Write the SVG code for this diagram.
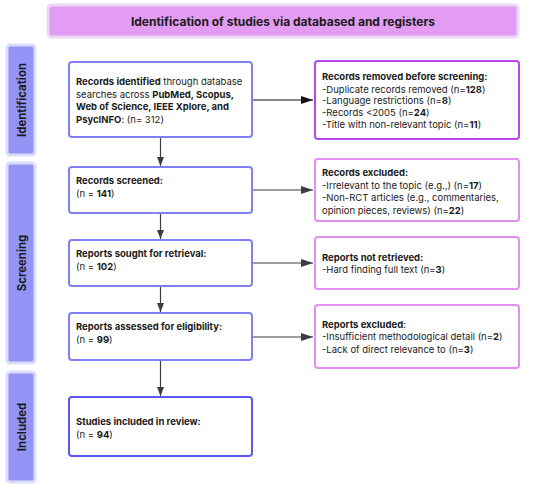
<svg xmlns="http://www.w3.org/2000/svg" width="550" height="487" viewBox="0 0 550 487">
<defs>
<marker id="ah" viewBox="0 0 12 8" refX="12" refY="4" markerWidth="12" markerHeight="8" markerUnits="userSpaceOnUse" orient="auto"><path d="M0,0 L12,4 L0,8 z" fill="#3a3d47"/></marker>
<marker id="ahv" viewBox="0 0 9 7" refX="9" refY="3.5" markerWidth="9" markerHeight="7" markerUnits="userSpaceOnUse" orient="auto"><path d="M0,0 L9,3.5 L0,7 z" fill="#3a3d47"/></marker>
<marker id="ahk" viewBox="0 0 12 8" refX="12" refY="4" markerWidth="12" markerHeight="8" markerUnits="userSpaceOnUse" orient="auto"><path d="M0,0 L12,4 L0,8 z" fill="#111"/></marker>
</defs>
<style>
text{font-family:Inter,"Liberation Sans",sans-serif;font-size:9.5px;fill:#1a1a1a}
.b{font-weight:700}
.t{font-size:12px;font-weight:700;text-anchor:middle}
.side{font-size:11.4px;font-weight:700;text-anchor:middle}
.lb{fill:#fff;stroke:#8080f4;stroke-width:2}
.rb{fill:#fff;stroke:#e28ef2;stroke-width:2}
.ph{fill:#9494f7;stroke:#dcdcfb;stroke-width:3}
.c{stroke:#3a3d47;stroke-width:1.2;fill:none;marker-end:url(#ah)}
.cv{stroke:#3a3d47;stroke-width:1.2;fill:none;marker-end:url(#ahv)}
</style>
<rect width="550" height="487" fill="#fff"/>
<g id="title">
<rect x="48" y="5" width="470" height="32" rx="3" fill="#e29cf1" stroke="#ecd8f8" stroke-width="3"/>
<text class="t" x="283" y="26">Identification of studies via databased and registers</text>
</g>
<g id="phase-identification">
<rect class="ph" x="7" y="45" width="28" height="110" rx="3"/>
<text class="side" transform="translate(25.5,100) rotate(-90)">Identification</text>
</g>
<g id="phase-screening">
<rect class="ph" x="7" y="163" width="28" height="200" rx="3"/>
<text class="side" transform="translate(25.5,263) rotate(-90)">Screening</text>
</g>
<g id="phase-included">
<rect class="ph" x="7" y="372" width="28" height="110" rx="3"/>
<text class="side" transform="translate(25.5,427) rotate(-90)">Included</text>
</g>
<g id="records-identified">
<rect class="lb" x="69" y="62" width="183" height="75" rx="3"/>
<text x="76" y="85"><tspan class="b">Records identified</tspan> through database</text>
<text x="76" y="97.5">searches across <tspan class="b">PubMed, Scopus,</tspan></text>
<text x="76" y="110" class="b">Web of Science, IEEE Xplore, and</text>
<text x="76" y="122.5"><tspan class="b">PsycINFO</tspan>: (n= 312)</text>
</g>
<g id="records-removed">
<rect x="315" y="61" width="204" height="78" rx="3" fill="#fff" stroke="#b548f0" stroke-width="2"/>
<text x="322" y="80" class="b">Records removed before screening:</text>
<text x="322" y="92.5">-Duplicate records removed (n=<tspan class="b">128</tspan>)</text>
<text x="322" y="104">-Language restrictions (n=<tspan class="b">8</tspan>)</text>
<text x="322" y="116">-Records &lt;2005 (n=<tspan class="b">24</tspan>)</text>
<text x="322" y="128">-Title with non-relevant topic (n=<tspan class="b">11</tspan>)</text>
</g>
<g id="records-screened">
<rect class="lb" x="69" y="167" width="183" height="46" rx="3"/>
<text x="76" y="184" class="b">Records screened:</text>
<text x="76" y="196.5">(n = <tspan class="b">141</tspan>)</text>
</g>
<g id="records-excluded">
<rect class="rb" x="315" y="159" width="204" height="62" rx="3"/>
<text x="322" y="176" class="b">Records excluded:</text>
<text x="322" y="188.5">-Irrelevant to the topic (e.g.,) (n=<tspan class="b">17</tspan>)</text>
<text x="322" y="201">-Non-RCT articles (e.g., commentaries,</text>
<text x="322" y="213.5">opinion pieces, reviews) (n=<tspan class="b">22</tspan>)</text>
</g>
<g id="reports-sought">
<rect class="lb" x="69" y="240" width="183" height="46" rx="3"/>
<text x="76" y="257" class="b">Reports sought for retrieval:</text>
<text x="76" y="269.5">(n = <tspan class="b">102</tspan>)</text>
</g>
<g id="reports-not-retrieved">
<rect class="rb" x="315" y="237" width="204" height="52" rx="3"/>
<text x="322" y="261" class="b">Reports not retrieved:</text>
<text x="322" y="273">-Hard finding full text (n=<tspan class="b">3</tspan>)</text>
</g>
<g id="reports-assessed">
<rect class="lb" x="69" y="313" width="183" height="47" rx="3"/>
<text x="76" y="330" class="b">Reports assessed for eligibility:</text>
<text x="76" y="342.5">(n = <tspan class="b">99</tspan>)</text>
</g>
<g id="reports-excluded">
<rect class="rb" x="315" y="305" width="204" height="63" rx="3"/>
<text x="322" y="328"><tspan class="b">Reports excluded</tspan>:</text>
<text x="322" y="340">-Insufficient methodological detail (n=<tspan class="b">2</tspan>)</text>
<text x="322" y="352.5">-Lack of direct relevance to (n=<tspan class="b">3</tspan>)</text>
</g>
<g id="studies-included">
<rect x="69" y="397" width="183" height="59" rx="3" fill="#fff" stroke="#5a5af2" stroke-width="2"/>
<text x="76" y="425" class="b">Studies included in review:</text>
<text x="76" y="437.5">(n = <tspan class="b">94</tspan>)</text>
</g>
<g id="connectors">
<path d="M253,100 H313" stroke="#111" stroke-width="1.2" fill="none" marker-end="url(#ahk)"/>
<path class="c" d="M253,190 H313"/>
<path class="c" d="M253,263 H313"/>
<path class="c" d="M253,337 H313"/>
<path class="cv" d="M160.5,138 V166"/>
<path class="cv" d="M160.5,214 V239"/>
<path class="cv" d="M160.5,287 V312"/>
<path class="cv" d="M160.5,361 V396"/>
</g>
</svg>
